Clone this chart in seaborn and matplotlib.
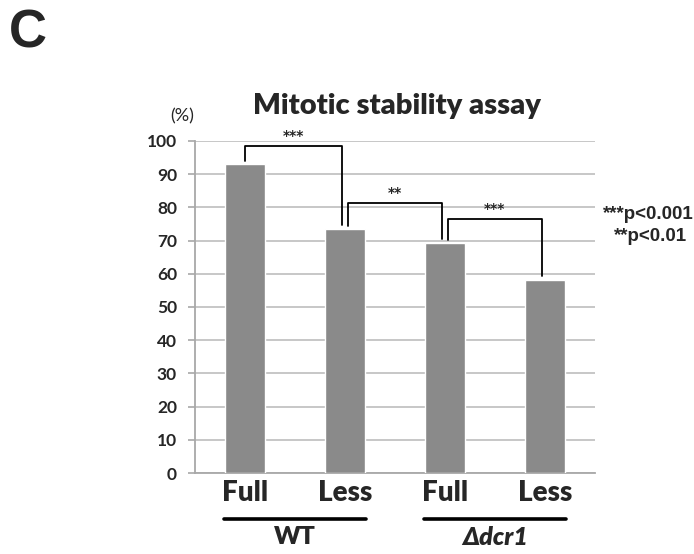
import matplotlib
matplotlib.use("Agg")
import matplotlib.pyplot as plt
import seaborn as sns
import pandas as pd

categories = ["WT Full", "WT Less", "dcr1 Full", "dcr1 Less"]
tick_labels = ["Full", "Less", "Full", "Less"]
values = [93.0, 73.4, 69.2, 58.0]
groups = ["WT", "Δdcr1"]
yticks = [0, 10, 20, 30, 40, 50, 60, 70, 80, 90, 100]
# significance brackets: (left index, right index, bracket top, label)
brackets = [(0, 1, 98.5, "***"), (1, 2, 81.3, "**"), (2, 3, 76.5, "***")]

sns.set_theme(style="white")
plt.rcParams['font.family'] = ['Lato', 'DejaVu Sans']

df = pd.DataFrame({"cat": categories, "val": values})

fig = plt.figure(figsize=(6.94, 5.54), dpi=100)
ax = fig.add_axes([0.281, 0.1462, 0.576, 0.5993])
sns.barplot(data=df, x="cat", y="val", color="#8a8a8a", saturation=1,
            width=0.4, ax=ax, zorder=3)
ax.set_xlim(-0.5, 3.5)
ax.set_ylim(0, 100)
ax.set_yticks(yticks)
ax.set_yticklabels([str(t) for t in yticks], fontsize=12.5, fontweight="bold")
ax.yaxis.grid(True, color="#bdbdbd", linewidth=1.2, zorder=0)
ax.set_axisbelow(True)
for s in ["top", "right"]:
    ax.spines[s].set_visible(False)
for s in ["bottom", "left"]:
    ax.spines[s].set_color("#a8a8a8")
    ax.spines[s].set_linewidth(1.3)
ax.tick_params(axis="y", length=5, width=1.2, color="#a8a8a8", pad=8,
               direction="out", left=True)
ax.set_xticks(range(len(tick_labels)))
ax.set_xticklabels(tick_labels, fontsize=20, fontweight="heavy")
ax.tick_params(axis="x", length=0, pad=5)
ax.set_xlabel("")
ax.set_ylabel("")

# brackets
for i, (l, r, top, lab) in enumerate(brackets):
    lv = values[l] + 1.0
    rv = values[r] + 1.2
    lx = l + (0.03 if i > 0 else 0.0)
    rx = r - 0.03
    ax.plot([lx, lx, rx, rx], [lv, top, top, rv], color="black", lw=1.3,
            zorder=4, clip_on=False)
    ax.text((lx + rx) / 2, top + 0.8, lab, ha="center", va="bottom",
            fontsize=10, fontweight="bold", family="DejaVu Sans")

fig.text(0.262, 0.790, "(%)", fontsize=13, ha="center", va="center")
fig.text(0.572, 0.808, "Mitotic stability assay", fontsize=21,
         fontweight="heavy", ha="center", va="center")
fig.text(0.04, 0.94, "C", fontsize=38, fontweight="bold", ha="center",
         va="center", family="Liberation Sans")

fig.text(0.999, 0.613, "***p<0.001", fontsize=13.5, fontweight="bold",
         ha="right", va="center", family="Liberation Sans")
fig.text(0.99, 0.573, "**p<0.01", fontsize=13.5, fontweight="bold",
         ha="right", va="center", family="Liberation Sans")

# group lines and labels
trans = ax.get_xaxis_transform()
for gi, g in enumerate(groups):
    x0 = 2 * gi - 0.21
    x1 = 2 * gi + 1 + 0.21
    ax.plot([x0, x1], [-0.1386, -0.1386], transform=trans, color="black",
            lw=2.6, clip_on=False)
    ax.text((x0 + x1) / 2, -0.193, g, transform=trans, ha="center",
            va="center", fontsize=18, fontweight="heavy",
            style="italic" if gi == 1 else "normal")

fig.savefig("out.png", dpi=100, facecolor="white")
